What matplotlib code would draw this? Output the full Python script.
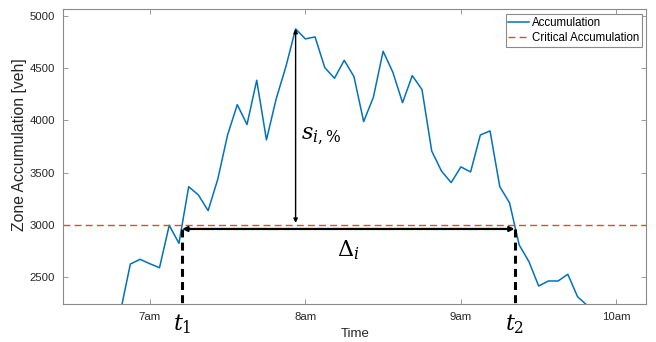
import numpy as np
import matplotlib
matplotlib.use("Agg")
import matplotlib.pyplot as plt
from matplotlib.transforms import blended_transform_factory

# Zone accumulation sampled every 3.75 minutes starting at 06:48:45
t0_hours = 6.8125
step_minutes = 3.75
accumulation = [2180, 2627, 2672, 2630, 2592, 2997, 2825, 3366, 3287, 3137,
                3440, 3860, 4150, 3960, 4383, 3813, 4205, 4513, 4874, 4778,
                4797, 4504, 4402, 4574, 4418, 3988, 4221, 4660, 4460, 4169,
                4427, 4294, 3707, 3516, 3405, 3555, 3507, 3860, 3899, 3366,
                3213, 2809, 2650, 2417, 2465, 2465, 2529, 2315, 2231]
critical = 3000

tick_hours = [7, 8, 9, 10]
tick_labels = ["7am", "8am", "9am", "10am"]
ytick_values = [2500, 3000, 3500, 4000, 4500, 5000]

acc = np.array(accumulation, dtype=float)
hours = t0_hours + np.arange(len(acc)) * step_minutes / 60.0

# first up-crossing and last down-crossing of the critical level
up = [i for i in range(len(acc) - 1) if acc[i] < critical <= acc[i + 1]][0]
dn = [i for i in range(len(acc) - 1) if acc[i] >= critical > acc[i + 1]][-1]


def cross(i):
    f = (critical - acc[i]) / (acc[i + 1] - acc[i])
    return hours[i] + f * (hours[i + 1] - hours[i])


t1, t2 = cross(up), cross(dn)
ipk = int(np.argmax(acc))
t_peak, peak = hours[ipk], acc[ipk]

plt.rcParams["font.family"] = ["Liberation Sans", "DejaVu Sans"]
plt.rcParams["mathtext.fontset"] = "dejavuserif"

fig = plt.figure(figsize=(6.56, 3.42), dpi=100)
ax = fig.add_axes([0.0965, 0.1111, 0.8887, 0.8617])

blue = "#0072BD"
orange = "#D95319"
ax.plot(hours, acc, color=blue, lw=1.1, label="Accumulation")
ax.axhline(critical, color=orange, lw=1.0, ls=(0, (5, 3)),
           label="Critical Accumulation")

ylo, yhi = 2245, 5061
ax.set_xlim(6.444, 10.192)
ax.set_ylim(ylo, yhi)

arrow_y = critical - 38
# crossing markers
for t in (t1, t2):
    ax.plot([t, t], [arrow_y, ylo], color="black", lw=2.2,
            ls=(0, (2.6, 1.7)), clip_on=False, zorder=4)

# duration arrow between the crossings
ax.annotate("", xy=(t2, arrow_y), xytext=(t1, arrow_y),
            arrowprops=dict(arrowstyle="<|-|>", color="black", lw=1.6,
                            mutation_scale=7, shrinkA=0, shrinkB=0), zorder=5)
# peak excess arrow
ax.annotate("", xy=(t_peak, peak), xytext=(t_peak, critical + 20),
            arrowprops=dict(arrowstyle="<|-|>", color="black", lw=1.0,
                            mutation_scale=6, shrinkA=0, shrinkB=0), zorder=5)

ax.text(t_peak + 0.035, 3850, r"$s_{i,\%}$", fontsize=16, ha="left",
        va="center")
ax.text((t1 + t2) / 2, 2760, r"$\Delta_i$", fontsize=16, ha="center",
        va="center")
trans = blended_transform_factory(ax.transData, ax.transAxes)
for t, lab in ((t1, r"$t_1$"), (t2, r"$t_2$")):
    ax.text(t, -0.068, lab, fontsize=16, ha="center", va="center",
            transform=trans, clip_on=False)

ax.set_xticks(tick_hours)
ax.set_xticklabels(tick_labels)
ax.set_yticks(ytick_values)
ax.tick_params(direction="in", length=3.6, width=0.6, colors="#8a8a8a",
               labelcolor="#262626", labelsize=8.2, top=True, right=True,
               pad=6)
for s in ax.spines.values():
    s.set_color("#8a8a8a")
    s.set_linewidth(0.8)

ax.set_xlabel("Time", fontsize=9.5, color="#262626", labelpad=4)
ax.set_ylabel("Zone Accumulation [veh]", fontsize=11.3, color="#262626")
ax.yaxis.set_label_coords(-0.063, 0.54)

leg = ax.legend(loc="upper right", fontsize=8.3, frameon=True, fancybox=False,
                edgecolor="#8a8a8a", framealpha=1, borderpad=0.25,
                handlelength=1.75, handletextpad=0.25, labelspacing=0.3,
                borderaxespad=0.4)
leg.get_frame().set_linewidth(0.8)

fig.savefig("out.png", dpi=100)
